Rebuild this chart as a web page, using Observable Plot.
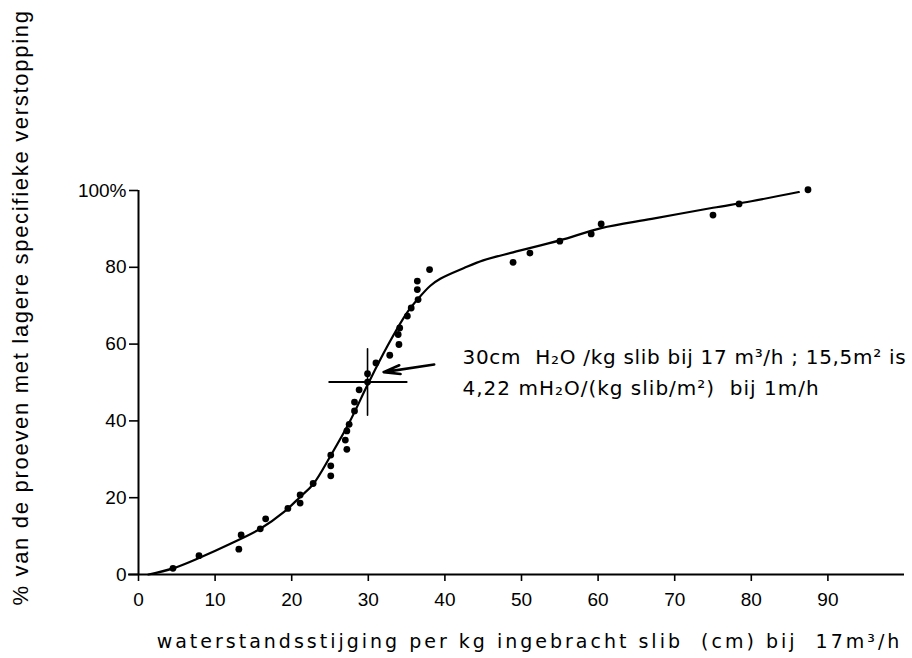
<!DOCTYPE html>
<html>
<head>
<meta charset="utf-8">
<script src="https://cdn.jsdelivr.net/npm/d3@7"></script>
<script src="https://cdn.jsdelivr.net/npm/@observablehq/plot@0.6"></script>
<style>
  html, body { margin: 0; padding: 0; background: #fff; }
</style>
</head>
<body>
<div id="chart"></div>
<script>
// Measured test points (x: cm per kg slib, y: % of tests)
const pointX = [4.5, 7.9, 13.4, 13.1, 15.9, 16.6, 19.5, 21.1, 21.1, 22.8,
  25.1, 25.1, 25.1, 27.2, 27.0, 27.2, 27.5, 28.2, 28.2, 28.8,
  29.9, 29.9, 31.0, 32.8, 34.0, 33.9, 34.1, 35.1, 35.6, 36.5,
  36.4, 36.4, 38.0, 48.9, 51.1, 55.0, 59.1, 60.4, 75.0, 78.4, 87.4];
const pointY = [1.6, 4.9, 10.3, 6.6, 11.9, 14.5, 17.2, 20.7, 18.6, 23.7,
  31.1, 28.3, 25.7, 32.6, 35.0, 37.4, 39.1, 42.6, 44.9, 48.1,
  50.1, 52.3, 55.1, 57.1, 59.9, 62.5, 64.2, 67.3, 69.4, 71.6,
  74.2, 76.4, 79.4, 81.3, 83.7, 86.8, 88.7, 91.3, 93.6, 96.5, 100.2];

// Fitted curve (hand-drawn in the original)
const curveX = [1.3, 4.5, 7.9, 12, 15.9, 19, 21.1, 22.8, 25.1, 27.5, 30, 32.5, 35, 36.5, 38.1, 39.4, 42.5, 45, 48.9, 55, 60.4, 67, 75, 80, 86.2];
const curveY = [0, 1.6, 4.3, 8.0, 11.9, 16.3, 20.2, 23.5, 31.0, 39.5, 49.8, 59.5, 68.0, 71.8, 75.2, 77.0, 79.8, 81.8, 83.9, 87.0, 90.2, 92.6, 95.5, 97.2, 99.6];

// Marker cross at 30 cm / 50 %
const crossHX = [24.9, 35.0];
const crossHY = [50.1, 50.1];
const crossVX = [29.9, 29.9];
const crossVY = [41.5, 58.8];

// Arrow pointing to the cross
const arrowFrom = [38.6, 54.7];
const arrowTo = [32.0, 52.7];

// Annotation
const noteLines = ["30cm  H₂O /kg slib bij 17 m³/h ; 15,5m² is", "4,22 mH₂O/(kg slib/m²)  bij 1m/h"];
const noteX = [42.3, 42.3];
const noteY = [56.6, 48.5];

// Axes
const xTicks = [0, 10, 20, 30, 40, 50, 60, 70, 80, 90];
const yTicks = [0, 20, 40, 60, 80, 100];
const yTickLabels = ["0", "20", "40", "60", "80", "100%"];
const xLabel = "waterstandsstijging per kg ingebracht slib  (cm) bij  17m³/h";
const yLabel = "% van de proeven met lagere specifieke verstopping";

const points = pointX.map((x, i) => ({x, y: pointY[i]}));
const curve = curveX.map((x, i) => ({x, y: curveY[i]}));
const crossH = crossHX.map((x, i) => ({x, y: crossHY[i]}));
const crossV = crossVX.map((x, i) => ({x, y: crossVY[i]}));
const notes = noteLines.map((t, i) => ({t, x: noteX[i], y: noteY[i]}));

const wide = "'DejaVu Sans', Verdana, sans-serif";

const chart = Plot.plot({
  width: 912,
  height: 658,
  marginLeft: 138,
  marginRight: 8,
  marginTop: 190,
  marginBottom: 84,
  style: {fontFamily: "'Liberation Sans', Arial, sans-serif", background: "#fff", color: "#000"},
  x: {domain: [0, 100]},
  y: {domain: [0, 100]},
  marks: [
    Plot.ruleY([0], {x1: -1.3, x2: 100, stroke: "#000", strokeWidth: 2}),
    Plot.ruleX([0], {y1: 0, y2: 100, stroke: "#000", strokeWidth: 2}),
    Plot.axisX({ticks: xTicks, tickSize: 7, tickPadding: 11, fontSize: 19, label: null, strokeWidth: 1.6}),
    Plot.axisY({ticks: yTicks, tickSize: 9, tickPadding: 3, fontSize: 19, label: null, strokeWidth: 1.6,
      tickFormat: d => yTickLabels[yTicks.indexOf(d)]}),
    Plot.line(curve, {x: "x", y: "y", curve: "catmull-rom", stroke: "#000", strokeWidth: 2.2}),
    Plot.dot(points, {x: "x", y: "y", r: 3.4, fill: "#000", stroke: "none"}),
    Plot.line(crossH, {x: "x", y: "y", stroke: "#000", strokeWidth: 2}),
    Plot.line(crossV, {x: "x", y: "y", stroke: "#000", strokeWidth: 1.6}),
    Plot.arrow([{x1: arrowFrom[0], y1: arrowFrom[1], x2: arrowTo[0], y2: arrowTo[1]}],
      {x1: "x1", y1: "y1", x2: "x2", y2: "y2", stroke: "#000", strokeWidth: 2.6, headLength: 13, headAngle: 30}),
    Plot.text(notes, {x: "x", y: "y", text: "t", textAnchor: "start", fontSize: 20, fontFamily: wide, fill: "#000"}),
    Plot.text([xLabel], {frameAnchor: "bottom", textAnchor: "middle", lineAnchor: "middle", dx: 8, dy: 67, fontSize: 19, fontFamily: wide, fill: "#000"}),
    Plot.text([yLabel], {frameAnchor: "left", textAnchor: "middle", lineAnchor: "middle", rotate: -90, dx: -118, dy: -75, fontSize: 22, fill: "#000"})
  ]
});
document.getElementById("chart").appendChild(chart);

// letter spacing (not a Plot text option): applied to the rendered text elements
const spacing = new Map([[xLabel, "3px"], [yLabel, "1.7px"], [noteLines[0], "0.7px"], [noteLines[1], "1px"]]);
d3.select(chart).selectAll("text").each(function () {
  const s = spacing.get(this.textContent);
  if (s) this.setAttribute("letter-spacing", s);
});
</script>
</body>
</html>
